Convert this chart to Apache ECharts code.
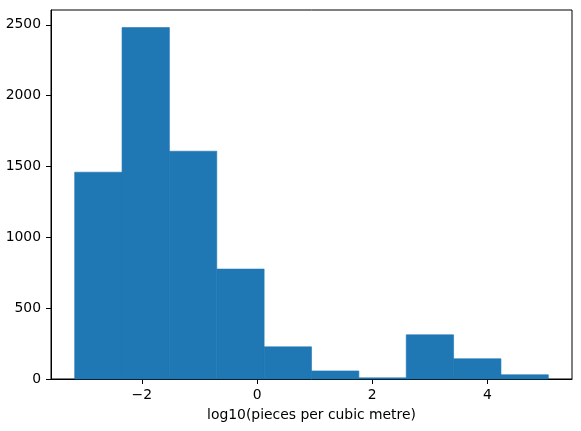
<!DOCTYPE html>
<html>
<head>
<meta charset="utf-8">
<script src="https://cdn.jsdelivr.net/npm/echarts@6/dist/echarts.min.js"></script>
<style>
  html, body { margin: 0; padding: 0; background: #fff; }
  #chart { width: 581px; height: 431px; }
</style>
</head>
<body>
<div id="chart"></div>
<script>
// histogram bins
const binEdges = [-3.165, -2.343, -1.521, -0.699, 0.123, 0.945, 1.767, 2.589, 3.411, 4.233, 5.055];
const counts = [1460, 2481, 1608, 776, 227, 57, 8, 312, 143, 30];
const xTicks = [-2, 0, 2, 4];
const yTicks = [0, 500, 1000, 1500, 2000, 2500];
const xLabel = 'log10(pieces per cubic metre)';

const font = 'DejaVu Sans';
const blue = '#1f77b4';

// [left edge, right edge, count] per bar
const bars = counts.map((c, i) => [binEdges[i], binEdges[i + 1], c]);

const chart = echarts.init(document.getElementById('chart'), null, { renderer: 'canvas' });

const minus = v => (v < 0 ? '\u2212' + (-v) : String(v));

chart.setOption({
    animation: false,
    grid: {
        left: 51, right: 9, top: 10, bottom: 52,
        show: true,
        borderColor: '#000',
        borderWidth: 1
    },
    xAxis: {
        type: 'value',
        min: -3.576,
        max: 5.466,
        name: xLabel,
        nameLocation: 'middle',
        nameGap: 29,
        nameTextStyle: { color: '#000', fontFamily: font, fontSize: 13.9 },
        splitLine: { show: false },
        axisLine: { show: true, onZero: false, lineStyle: { color: '#000', width: 1 } },
        axisTick: { show: true, length: 5, lineStyle: { color: '#000', width: 1 }, customValues: xTicks },
        axisLabel: {
            customValues: xTicks,
            margin: 9,
            color: '#000',
            fontFamily: font,
            fontSize: 13.9,
            formatter: minus
        }
    },
    yAxis: {
        type: 'value',
        min: 0,
        max: 2605,
        splitLine: { show: false },
        axisLine: { show: true, onZero: false, lineStyle: { color: '#000', width: 1 } },
        axisTick: { show: true, length: 5, lineStyle: { color: '#000', width: 1 }, customValues: yTicks },
        axisLabel: {
            customValues: yTicks,
            margin: 10,
            color: '#000',
            fontFamily: font,
            fontSize: 13.9,
            formatter: v => String(v)
        }
    },
    series: [{
        type: 'custom',
        data: bars,
        encode: { x: [0, 1], y: 2 },
        renderItem: (params, api) => {
            const topLeft = api.coord([api.value(0), api.value(2)]);
            const bottomRight = api.coord([api.value(1), 0]);
            return {
                type: 'rect',
                shape: {
                    x: topLeft[0],
                    y: topLeft[1],
                    width: bottomRight[0] - topLeft[0],
                    height: bottomRight[1] - topLeft[1]
                },
                // thin stroke in the fill colour hides the seams between bins
                style: { fill: blue, stroke: blue, lineWidth: 0.6 }
            };
        }
    }]
});
</script>
</body>
</html>
